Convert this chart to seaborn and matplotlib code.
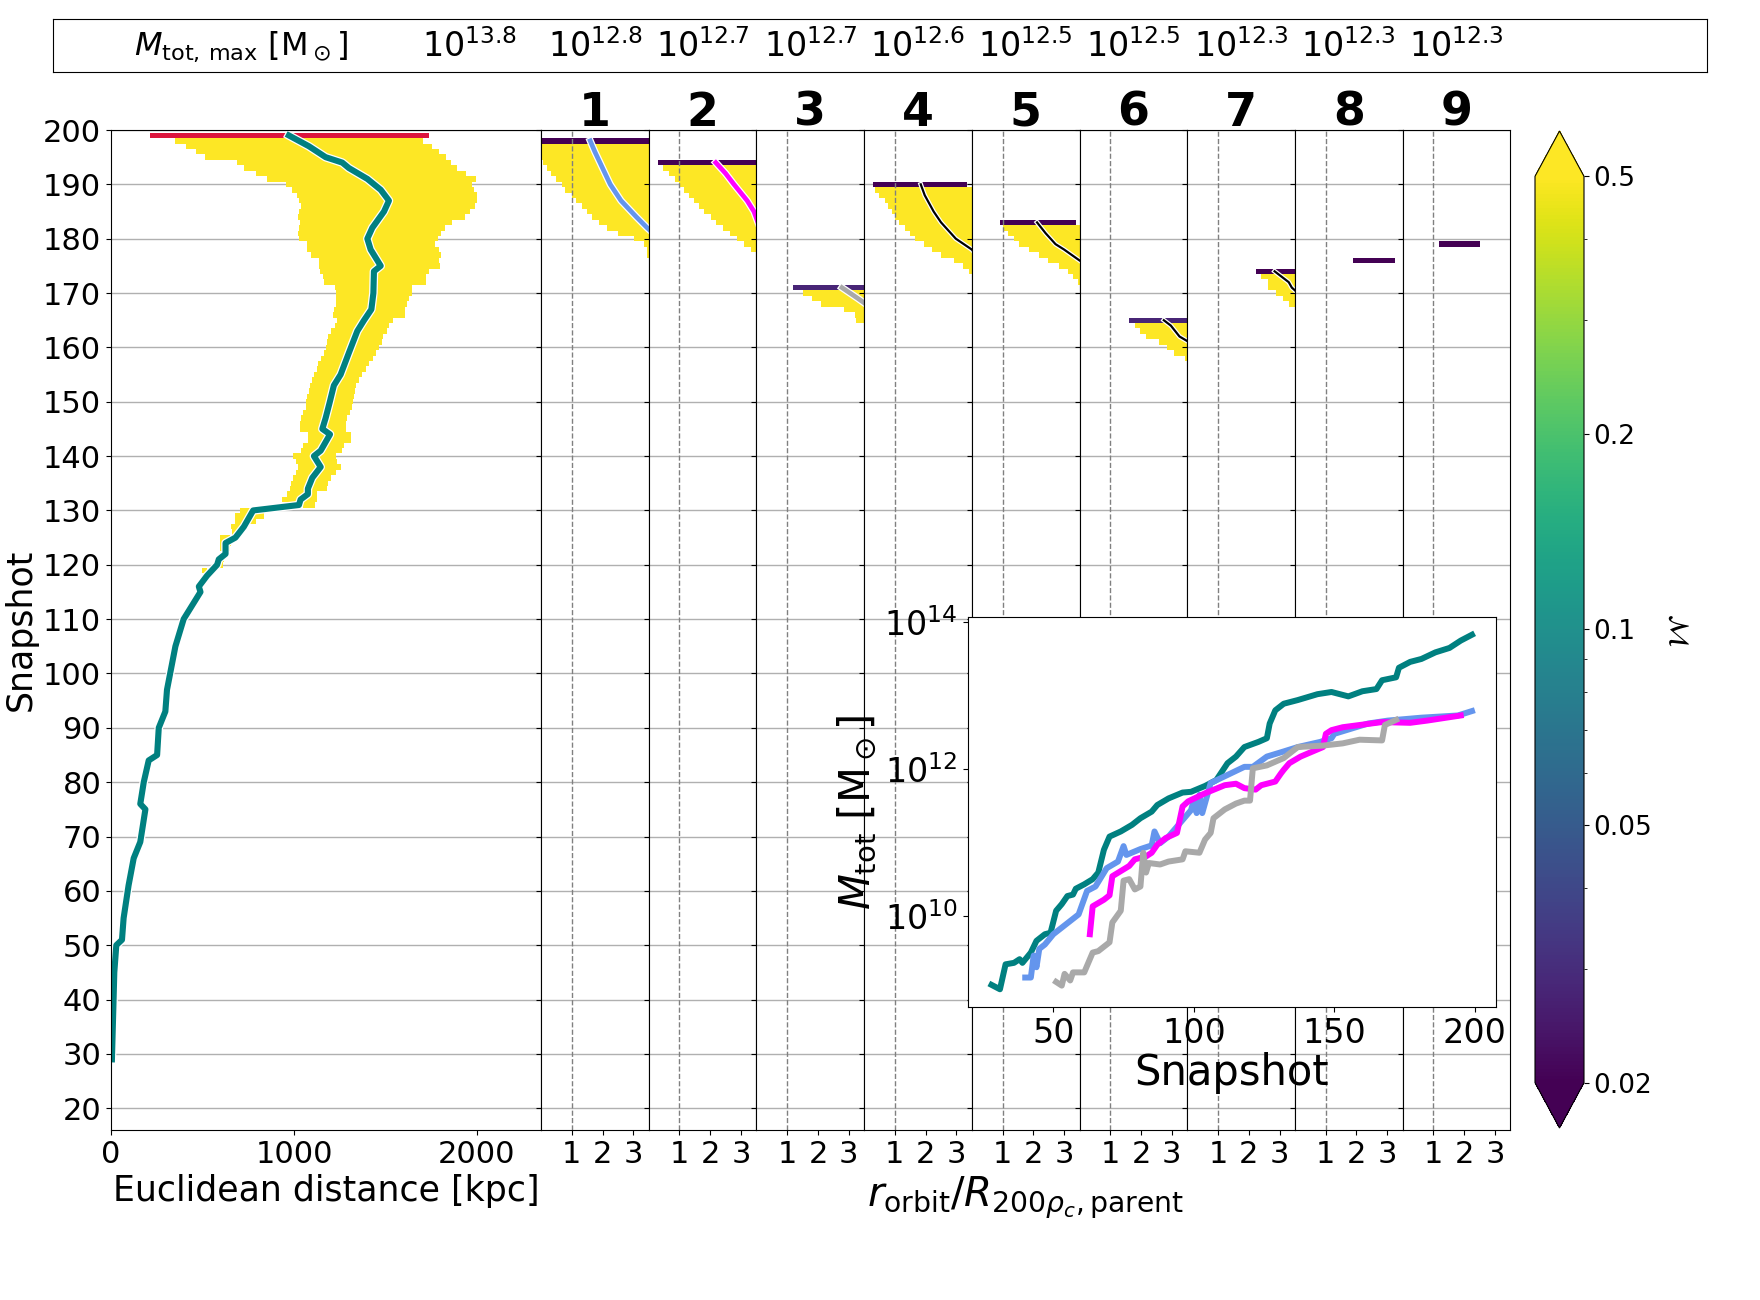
import numpy as np
import matplotlib
matplotlib.use("Agg")
import matplotlib.pyplot as plt
import matplotlib.patheffects as pe
from matplotlib.colors import LogNorm
from matplotlib.cm import ScalarMappable
from matplotlib.ticker import NullFormatter, NullLocator
import seaborn as sns

plt.rcParams['font.family'] = ['DejaVu Sans']
plt.rcParams['mathtext.fontset'] = 'dejavusans'

# ---------------- data ----------------
MASS_LABELS = ["13.8", "12.8", "12.7", "12.7", "12.6", "12.5", "12.5", "12.3", "12.3", "12.3"]
PANEL_NAMES = ["1", "2", "3", "4", "5", "6", "7", "8", "9"]

# main halo: cells (snapshot rows, left/right edge in kpc), all with M above 0.5
MAIN_ROWS = list(range(198, 118, -1))
MAIN_LEFT = [352, 412, 467, 516, 691, 726, 793, 855, 959, 990, 1018, 1030, 1036, 1029, 1021, 1032,
             1029, 1021, 1027, 1069, 1069, 1093, 1136, 1138, 1142, 1160, 1164, 1224, 1228, 1229,
             1228, 1218, 1213, 1237, 1222, 1204, 1187, 1182, 1175, 1162, 1149, 1134, 1127, 1109,
             1096, 1087, 1080, 1072, 1065, 1063, 1049, 1036, 1032, 1032, 1076, 1076, 1049, 1041,
             994, 1009, 1023, 1010, 996, 981, 978, 963, 937, 1049, 704, 675, 675, 658, 662, 595,
             595, 595, 607, 574, 580, 498]
MAIN_RIGHT = [1704, 1753, 1791, 1830, 1859, 1890, 1939, 1994, 1972, 1985, 1999, 1999, 1988, 1963,
              1934, 1862, 1826, 1806, 1789, 1768, 1795, 1806, 1795, 1800, 1738, 1720, 1720, 1647,
              1643, 1629, 1616, 1605, 1605, 1543, 1521, 1507, 1488, 1479, 1463, 1448, 1434, 1412,
              1392, 1373, 1355, 1341, 1332, 1330, 1321, 1319, 1306, 1288, 1282, 1282, 1313, 1313,
              1273, 1264, 1228, 1237, 1258, 1228, 1200, 1186, 1178, 1124, 1124, 1114, 835, 835,
              790, 726, 717, 653, 658, 649, 638, 616, 613, 525]
MAIN_M = 0.6
MAIN_TOP_ROW = 199
MAIN_TOP_LEFT = 215
MAIN_TOP_RIGHT = 1737

# main halo track: snapshot vs distance [kpc]
TRACK_SNAP = [199, 197, 195, 194, 193, 191, 189, 187, 185, 182, 180, 178, 175, 174, 170, 167, 165,
              163, 159, 155, 153, 150, 147, 145, 144, 141, 140, 138, 136, 134, 133, 132, 131, 130,
              127, 125, 124, 122, 121, 120, 118, 116, 115, 110, 105, 97, 93, 90, 85, 84, 80, 76,
              75, 69, 66, 61, 55, 51, 50, 45, 40, 29]
TRACK_DIST = [972, 1082, 1173, 1264, 1300, 1401, 1474, 1519, 1492, 1428, 1401, 1419, 1474, 1437,
              1434, 1423, 1383, 1346, 1300, 1255, 1218, 1196, 1173, 1155, 1197, 1146, 1109, 1146,
              1100, 1076, 1076, 1036, 1027, 777, 726, 680, 626, 626, 589, 580, 525, 480, 489, 397,
              352, 306, 297, 261, 252, 206, 179, 160, 188, 160, 124, 96, 69, 60, 29, 18, 14, 5]

# satellites: first (top) row, its M value and extent, then the yellow rows below
SAT_TOP_ROW = [198, 194, 171, 190, 183, 165, 174, 176, 179]
SAT_TOP_M = [0.02, 0.02, 0.028, 0.02, 0.02, 0.028, 0.02, 0.02, 0.02]
SAT_TOP_LEFT = [0.0, 0.31, 1.18, 0.30, 0.91, 1.60, 2.22, 1.89, 1.19]
SAT_TOP_RIGHT = [3.5, 3.5, 3.5, 3.36, 3.40, 3.5, 3.5, 3.26, 2.52]
SAT_ROWS = [
    list(range(197, 176, -1)),
    list(range(193, 177, -1)),
    list(range(170, 164, -1)),
    list(range(189, 173, -1)),
    list(range(182, 171, -1)),
    list(range(164, 157, -1)),
    list(range(173, 167, -1)),
    [],
    [],
]
SAT_LEFT = [
    [0.0, 0.0, 0.02, 0.08, 0.18, 0.32, 0.49, 0.67, 0.79, 1.0, 1.14, 1.32, 1.49, 1.67, 1.87, 2.14,
     2.49, 3.02, 3.35, 3.43, 3.43],
    [0.47, 0.66, 0.85, 1.0, 1.14, 1.32, 1.47, 1.63, 1.81, 2.01, 2.18, 2.41, 2.64, 2.88, 3.11, 3.34],
    [1.51, 1.80, 2.09, 2.84, 3.19, 3.24],
    [0.36, 0.50, 0.67, 0.79, 0.91, 0.99, 1.14, 1.34, 1.49, 1.64, 1.95, 2.21, 2.49, 2.91, 3.23, 3.40],
    [1.02, 1.19, 1.37, 1.55, 1.87, 2.19, 2.48, 2.83, 3.13, 3.30, 3.44],
    [1.79, 1.96, 2.15, 2.58, 2.85, 3.08, 3.42],
    [2.39, 2.62, 2.62, 2.87, 3.11, 3.30],
    [],
    [],
]
SAT_RIGHT = 3.6
SAT_M = 0.6

# satellite orbits r_orbit / R200
ORB_SNAP = [
    [198, 196, 193, 190, 187, 184, 182, 181],
    [194, 192, 190, 187, 185, 183],
    [171, 169, 168],
    [190, 188, 185, 183, 180, 178, 177],
    [183, 181, 179, 178, 176],
    [165, 164, 162, 161],
    [174, 172, 171, 170],
    [],
    [],
]
ORB_R = [
    [1.60, 1.75, 2.00, 2.25, 2.60, 3.10, 3.45, 3.65],
    [2.18, 2.50, 2.77, 3.20, 3.42, 3.55],
    [2.78, 3.30, 3.55],
    [1.84, 1.97, 2.26, 2.50, 2.98, 3.50, 3.65],
    [2.12, 2.40, 2.72, 3.00, 3.50],
    [2.74, 2.97, 3.25, 3.55],
    [2.84, 3.30, 3.40, 3.60],
    [],
    [],
]
ORB_COLOR = ["cornflowerblue", "magenta", "darkgray", "black", "black", "black", "black", None, None]
ORB_LW = [3.4, 3.4, 3.4, 1.6, 1.6, 1.6, 1.6, 1, 1]

# inset mass histories (log10 M_tot)
TEAL_SNAP = [28, 31, 33, 36, 38, 39, 42, 44, 47, 49, 51, 53, 55, 57, 58, 61, 64, 66, 68, 70, 74, 78,
             81, 85, 87, 91, 96, 99, 104, 108, 112, 115, 118, 123, 126, 127, 129, 132, 137, 144,
             149, 155, 160, 165, 167, 172, 173, 177, 181, 186, 191, 195, 199]
TEAL_LOGM = [9.06, 9.0, 9.34, 9.36, 9.41, 9.36, 9.5, 9.66, 9.75, 9.77, 10.07, 10.16, 10.27, 10.29,
             10.37, 10.43, 10.5, 10.59, 10.9, 11.08, 11.15, 11.24, 11.33, 11.42, 11.51, 11.6, 11.68,
             11.69, 11.77, 11.85, 12.08, 12.17, 12.3, 12.37, 12.42, 12.62, 12.8, 12.89, 12.94,
             13.02, 13.05, 12.99, 13.06, 13.09, 13.21, 13.25, 13.38, 13.46, 13.5, 13.59, 13.65,
             13.75, 13.83]
BLUE_SNAP = [40, 42, 43, 44, 45, 47, 50, 53, 56, 59, 62, 65, 69, 73, 75, 76, 81, 85, 86, 88, 91, 95,
             99, 100, 101, 102, 103, 106, 112, 118, 121, 126, 132, 137, 145, 149, 150, 156, 162,
             169, 181, 194, 199]
BLUE_LOGM = [9.16, 9.16, 9.46, 9.3, 9.55, 9.61, 9.75, 9.84, 9.93, 10.02, 10.34, 10.4, 10.65, 10.74,
             10.95, 10.83, 10.91, 10.96, 11.15, 10.99, 11.08, 11.26, 11.44, 11.58, 11.4, 11.65,
             11.4, 11.81, 11.92, 12.03, 12.03, 12.17, 12.24, 12.3, 12.37, 12.42, 12.48, 12.55,
             12.62, 12.66, 12.7, 12.73, 12.79]
MAG_SNAP = [63, 64, 68, 70, 71, 74, 77, 79, 83, 85, 87, 90, 94, 96, 98, 104, 111, 115, 118, 122,
            124, 129, 131, 132, 134, 138, 146, 147, 149, 153, 159, 167, 177, 183, 195]
MAG_LOGM = [9.75, 10.13, 10.22, 10.28, 10.54, 10.61, 10.68, 10.77, 10.81, 10.86, 10.97, 11.06,
            11.13, 11.49, 11.56, 11.67, 11.78, 11.8, 11.74, 11.72, 11.78, 11.83, 11.94, 11.99,
            12.08, 12.17, 12.3, 12.48, 12.53, 12.57, 12.6, 12.64, 12.63, 12.66, 12.73]
GRAY_SNAP = [51, 53, 54, 56, 57, 61, 64, 66, 70, 71, 74, 75, 77, 79, 81, 82, 83, 84, 88, 91, 96,
             97, 102, 104, 106, 107, 111, 115, 118, 120, 121, 126, 132, 137, 146, 153, 159, 167,
             168, 172]
GRAY_LOGM = [9.1, 9.05, 9.21, 9.12, 9.23, 9.23, 9.5, 9.52, 9.64, 9.91, 10.07, 10.48, 10.5, 10.36,
             10.4, 10.86, 10.59, 10.72, 10.7, 10.74, 10.77, 10.88, 10.86, 11.04, 11.13, 11.33,
             11.45, 11.53, 11.57, 11.57, 12.01, 12.05, 12.15, 12.3, 12.32, 12.35, 12.4, 12.39,
             12.6, 12.67]

CB_TICKS = [0.02, 0.05, 0.1, 0.2, 0.5]
CB_LABELS = ["0.02", "0.05", "0.1", "0.2", "0.5"]

# ---------------- layout ----------------
W, H = 1760, 1300
fig = plt.figure(figsize=(17.6, 13), dpi=100)


def box(x0, y0, x1, y1):
    return [x0 / W, 1 - y1 / H, (x1 - x0) / W, (y1 - y0) / H]


cmap = plt.get_cmap("viridis")
norm = LogNorm(vmin=0.02, vmax=0.5)
YLIM = (16, 200)
YTICKS = list(range(20, 201, 10))
TICK_FS = 22
LABEL_FS = 25


def outline(lw):
    return [pe.Stroke(linewidth=lw + 1.8, foreground="white"), pe.Normal()]


# main panel
ax0 = fig.add_axes(box(111, 130, 541, 1130))
ax0.set_axisbelow(True)
ax0.barh(MAIN_ROWS, np.subtract(MAIN_RIGHT, MAIN_LEFT), left=MAIN_LEFT, height=1.0,
         color=cmap(norm(MAIN_M)), linewidth=0)
ax0.barh([MAIN_TOP_ROW], [MAIN_TOP_RIGHT - MAIN_TOP_LEFT], left=[MAIN_TOP_LEFT], height=1.0,
         color="crimson", linewidth=0)
sns.lineplot(x=TRACK_DIST, y=TRACK_SNAP, sort=False, estimator=None, ax=ax0, color="teal",
             lw=4.4, path_effects=outline(4.4))
ax0.set_xlim(0, 2350)
ax0.set_ylim(*YLIM)
ax0.set_yticks(YTICKS)
ax0.set_xticks([0, 1000, 2000])
ax0.grid(axis="y", color="#b0b0b0", lw=1)
ax0.tick_params(labelsize=TICK_FS)
ax0.set_xlabel("Euclidean distance [kpc]", fontsize=LABEL_FS)
ax0.set_ylabel("Snapshot", fontsize=LABEL_FS)

PW = 107.7
panels = []
for i in range(9):
    ax = fig.add_axes(box(541 + i * PW, 130, 541 + (i + 1) * PW, 1130))
    ax.set_axisbelow(True)
    ax.barh([SAT_TOP_ROW[i]], [SAT_TOP_RIGHT[i] - SAT_TOP_LEFT[i]], left=[SAT_TOP_LEFT[i]],
            height=1.0, color=cmap(norm(SAT_TOP_M[i])), linewidth=0)
    if SAT_ROWS[i]:
        ax.barh(SAT_ROWS[i], np.subtract(SAT_RIGHT, SAT_LEFT[i]), left=SAT_LEFT[i], height=1.0,
                color=cmap(norm(SAT_M)), linewidth=0)
    if ORB_SNAP[i]:
        sns.lineplot(x=ORB_R[i], y=ORB_SNAP[i], sort=False, estimator=None, ax=ax,
                     color=ORB_COLOR[i], lw=ORB_LW[i], path_effects=outline(ORB_LW[i]))
    ax.axvline(1, color="gray", ls="--", lw=1)
    ax.set_xlim(0, 3.5)
    ax.set_ylim(*YLIM)
    ax.set_yticks(YTICKS)
    ax.set_xticks([1, 2, 3])
    ax.grid(axis="y", color="#b0b0b0", lw=1)
    ax.tick_params(labelleft=False, labelsize=TICK_FS)
    ax.set_xlabel("")
    ax.set_ylabel("")
    ax.text(0.5, 1.004, PANEL_NAMES[i], transform=ax.transAxes, fontsize=33,
            fontweight="bold", ha="center", va="baseline")
    panels.append(ax)

panels[4].set_xlabel(r"$r_\mathrm{orbit}/R_{200\rho_c,\mathrm{parent}}$", fontsize=29)

# top box with maximum masses
tb = fig.add_axes(box(53, 19, 1707, 72))
tb.set_xticks([])
tb.set_yticks([])
ty = 1 - 47 / H
fig.text(241 / W, ty, r"$M_\mathrm{tot,\,max}$ [M$_\odot$]", fontsize=23, ha="center", va="center")
label_x = [469] + [541 + (i + 0.5) * PW for i in range(9)]
for xpix, m in zip(label_x, MASS_LABELS):
    fig.text(xpix / W, ty, r"$10^{%s}$" % m, fontsize=24, ha="center", va="center")

# colorbar
cax = fig.add_axes(box(1535, 131, 1584, 1128))
sm = ScalarMappable(norm=norm, cmap=cmap)
cb = fig.colorbar(sm, cax=cax, extend="both")
cb.set_ticks(CB_TICKS)
cb.set_ticklabels(CB_LABELS)
cax.yaxis.set_minor_formatter(NullFormatter())
cax.tick_params(labelsize=19)
cb.set_label(r"$\mathcal{M}$", fontsize=20, rotation=270, labelpad=28)

# inset: mass histories
ins = fig.add_axes(box(967.5, 617, 1496, 1007))
ins.set_zorder(10)
ins.set_facecolor("white")
for xs, ys, c in [(TEAL_SNAP, TEAL_LOGM, "teal"), (BLUE_SNAP, BLUE_LOGM, "cornflowerblue"),
                  (MAG_SNAP, MAG_LOGM, "magenta"), (GRAY_SNAP, GRAY_LOGM, "darkgray")]:
    sns.lineplot(x=xs, y=10 ** np.array(ys), sort=False, estimator=None, ax=ins, color=c, lw=4.3)
ins.set_yscale("log")
ins.set_yticks([1e10, 1e12, 1e14])
ins.yaxis.set_minor_locator(NullLocator())
ins.set_xticks([50, 100, 150, 200])
ins.tick_params(labelsize=24)
ins.set_xlabel("Snapshot", fontsize=30, labelpad=2)
ins.set_ylabel(r"$M_\mathrm{tot}$ [M$_\odot$]", fontsize=30)

fig.savefig("out.png", dpi=100)
